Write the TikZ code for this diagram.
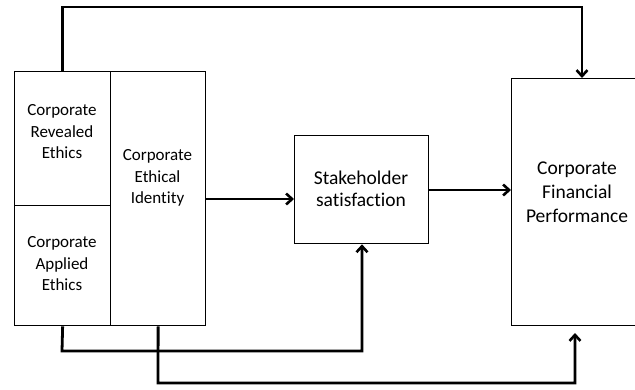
\documentclass[tikz,border=0pt]{standalone}
\usepackage{fontspec}
\setmainfont{Carlito}[Ligatures={NoCommon,NoContextual}]
\usetikzlibrary{arrows.meta}
\begin{document}
\begin{tikzpicture}[x=1pt,y=-1pt,
  box/.style={draw,line width=1.3pt,inner sep=0pt},
  conn/.style={line width=2.8pt,-{Straight Barb[length=6pt,width=11pt,line width=2.6pt]}},
  smalltxt/.style={font=\fontsize{17}{21.5}\selectfont,align=center},
  midtxt/.style={font=\fontsize{19.5}{22.5}\selectfont,align=center},
  bigtxt/.style={font=\fontsize{19.5}{24}\selectfont,align=center}]
\useasboundingbox (0,0) rectangle (635,389);
\begin{scope}
\clip (0,0) rectangle (635,389);
% left boxes
\node[box,minimum width=96pt,minimum height=134pt,anchor=north west] (cre) at (14,71) {};
\node[box,minimum width=96pt,minimum height=120pt,anchor=north west] (cae) at (14,205) {};
\node[box,minimum width=95pt,minimum height=254pt,anchor=north west] (cei) at (110,71) {};
\node[smalltxt] (creT) at (62,132) {Corporate\\Revealed\\Ethics};
\node[smalltxt] (caeT) at (62,264) {Corporate\\Applied\\Ethics};
\node[smalltxt] (ceiT) at (157.5,178) {Corporate\\Ethical\\Identity};
% stakeholder
\node[box,minimum width=134pt,minimum height=108pt,anchor=north west] (ss) at (294,135) {};
\node[midtxt] (ssT) at (361,189) {Stakeholder\\satisfaction};
% CFP
\node[box,minimum width=140pt,minimum height=247pt,anchor=north west] (cfp) at (511,78) {};
\node[bigtxt] (cfpT) at (577,192) {Corporate\\Financial\\Performance};
% connectors
\coordinate (t2) at (582,7);
\draw[conn] (cre.north) |- (t2) -- (t2 |- cfp.north);
\coordinate (a1) at (205,199);
\draw[conn] (a1) -- (a1 -| ss.west);
\coordinate (a2) at (428,190);
\draw[conn] (a2) -- (a2 -| cfp.west);
\coordinate (b1) at (62,351);
\coordinate (b1e) at (362,351);
\draw[conn] (cae.south) -- (b1) -- (b1e) -- (b1e |- ss.south);
\coordinate (b2) at (158,383);
\coordinate (b2e) at (575,383);
\coordinate (b2t) at (575,333);
\draw[conn] (cei.south) -- (b2) -- (b2e) -- (b2t);
\end{scope}
\end{tikzpicture}
\end{document}
